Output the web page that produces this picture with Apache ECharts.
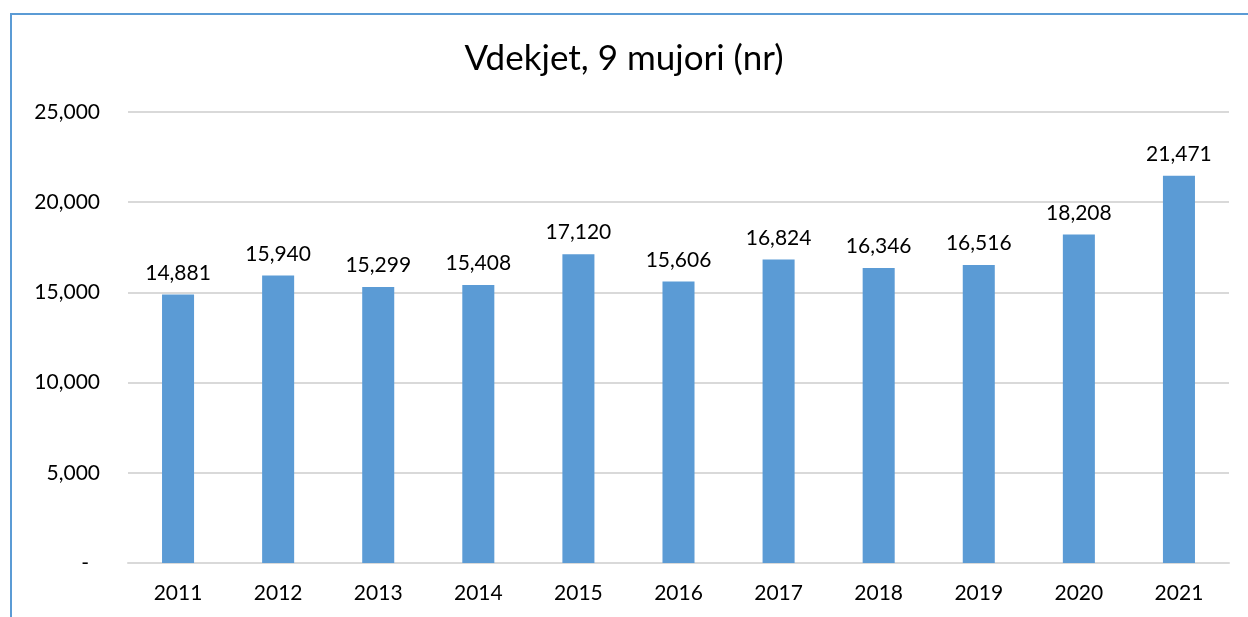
<!DOCTYPE html>
<html>
<head>
<meta charset="utf-8">
<script src="https://cdn.jsdelivr.net/npm/echarts@6/dist/echarts.min.js"></script>
<style>
  html, body { margin: 0; padding: 0; background: #fff; }
  #chart { width: 1248px; height: 617px; }
</style>
</head>
<body>
<div id="chart"></div>
<script>
// data
const years = ['2011', '2012', '2013', '2014', '2015', '2016', '2017', '2018', '2019', '2020', '2021']
const deaths = [14881, 15940, 15299, 15408, 17120, 15606, 16824, 16346, 16516, 18208, 21471]
const yTicks = [0, 5000, 10000, 15000, 20000, 25000]

const font = 'Lato, "Noto Sans", sans-serif'
const fmt = v => (v === 0 ? '-' : v.toLocaleString('en-US'))

const chart = echarts.init(document.getElementById('chart'))
chart.setOption({
  animation: false,
  title: {
    text: 'Vdekjet, 9 mujori (nr)',
    left: 'center',
    top: 36,
    textStyle: { fontFamily: font, fontSize: 35, fontWeight: 'normal', color: '#000' }
  },
  grid: { left: 128, right: 19, top: 112, bottom: 54 },
  // the frame line on the left and top edge
  graphic: [{
    type: 'polyline',
    silent: true,
    shape: { points: [[11, 617], [11, 14], [1248, 14]] },
    style: { stroke: '#5b9bd5', lineWidth: 2, fill: null }
  }],
  xAxis: {
    type: 'category',
    data: years,
    axisTick: { show: false },
    axisLine: { lineStyle: { color: '#d9d9d9', width: 2 } },
    axisLabel: { fontFamily: font, fontSize: 21, color: '#000', margin: 20 }
  },
  yAxis: {
    type: 'value',
    min: yTicks[0],
    max: yTicks[yTicks.length - 1],
    interval: 5000,
    axisLine: { show: false },
    axisTick: { show: false },
    splitLine: { lineStyle: { color: '#d9d9d9', width: 2 } },
    axisLabel: {
      fontFamily: font, fontSize: 21, color: '#000', margin: 28,
      // accounting style: the zero dash sits a bit left of the digits
      formatter: v => (v === 0 ? '{z|-}' : fmt(v)),
      rich: { z: { fontFamily: font, fontSize: 21, color: '#000', padding: [0, 11, 0, 0] } }
    }
  },
  series: [{
    name: 'Vdekjet',
    type: 'bar',
    data: deaths,
    barWidth: '32%',
    itemStyle: { color: '#5b9bd5' },
    label: {
      show: true,
      position: 'top',
      distance: 11,
      fontFamily: font,
      fontSize: 21,
      color: '#000',
      formatter: p => fmt(p.value)
    }
  }]
})
</script>
</body>
</html>
